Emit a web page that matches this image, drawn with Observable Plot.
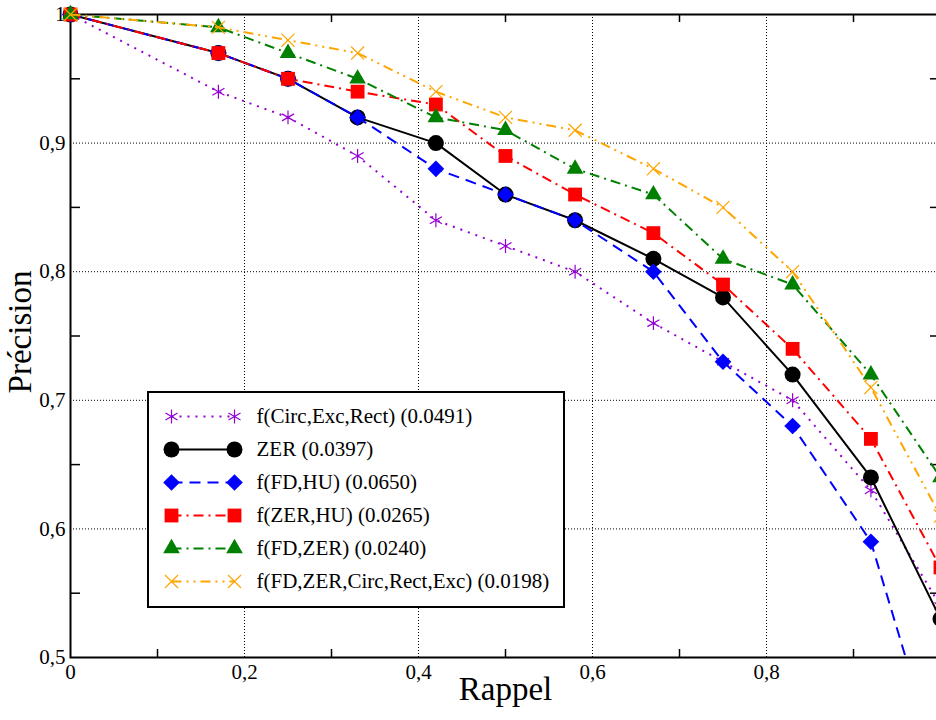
<!DOCTYPE html>
<html>
<head>
<meta charset="utf-8">
<script src="https://cdn.jsdelivr.net/npm/d3@7"></script>
<script src="https://cdn.jsdelivr.net/npm/@observablehq/plot@0.6"></script>
<style>
  body { margin: 0; background: #fff; }
  #wrap { position: relative; width: 936px; height: 720px; overflow: hidden; background: #fff; }
  #legend { position: absolute; left: 147px; top: 391px; border: 2px solid #000; background: #fff; line-height: 0; }
</style>
</head>
<body>
<div id="wrap"><div id="chart"></div><div id="legend"></div></div>
<script>
// ---- data ----
const recall = [0, 0.17, 0.25, 0.33, 0.42, 0.5, 0.58, 0.67, 0.75, 0.83, 0.92, 1];
const seriesNames = ["f(Circ,Exc,Rect)", "ZER", "f(FD,HU)", "f(ZER,HU)", "f(FD,ZER)", "f(FD,ZER,Circ,Rect,Exc)"];
const seriesScores = ["0.0491", "0.0397", "0.0650", "0.0265", "0.0240", "0.0198"];
const precCircExcRect = [1, 0.94, 0.92, 0.89, 0.84, 0.82, 0.80, 0.76, 0.73, 0.70, 0.63, 0.54];
const precZer         = [1, 0.97, 0.95, 0.92, 0.90, 0.86, 0.84, 0.81, 0.78, 0.72, 0.64, 0.53];
const precFdHu        = [1, 0.97, 0.95, 0.92, 0.88, 0.86, 0.84, 0.80, 0.73, 0.68, 0.59, 0.41];
const precZerHu       = [1, 0.97, 0.95, 0.94, 0.93, 0.89, 0.86, 0.83, 0.79, 0.74, 0.67, 0.57];
const precFdZer       = [1, 0.99, 0.97, 0.95, 0.92, 0.91, 0.88, 0.86, 0.81, 0.79, 0.72, 0.64];
const precAll         = [1, 0.99, 0.98, 0.97, 0.94, 0.92, 0.91, 0.88, 0.85, 0.80, 0.71, 0.61];
const xTicks = [0, 0.2, 0.4, 0.6, 0.8];
const yTicks = [0.5, 0.6, 0.7, 0.8, 0.9, 1];
const xMinorTicks = [0.1, 0.3, 0.5, 0.7, 0.9];
const yMinorTicks = [0.55, 0.65, 0.75, 0.85, 0.95];
const xGrid = [0.2, 0.4, 0.6, 0.8];
const yGrid = [0.6, 0.7, 0.8, 0.9];
const xTitle = "Rappel";
const yTitle = "Précision";

// ---- styles ----
const styles = [
  {color: "#9400d3", dash: "2,6",            symbol: "asterisk", r: 6.6, filled: false},
  {color: "#000000", dash: null,             symbol: "circle",   r: 8,   filled: true},
  {color: "#0000ff", dash: "11,7",           symbol: "diamond2", r: 7.5, filled: true},
  {color: "#ff0000", dash: "10,5,2,5",       symbol: "square",   r: 7.8, filled: true},
  {color: "#008000", dash: "10,5,2,5",       symbol: "triangle", r: 6.2, filled: true},
  {color: "#ffa500", dash: "10,5,2,5,2,5",   symbol: "times",    r: 6,   filled: false}
];

const precisions = [precCircExcRect, precZer, precFdHu, precZerHu, precFdZer, precAll];
const rows = seriesNames.flatMap((name, i) => recall.map((x, j) => ({i, name, x, y: precisions[i][j]})));

const fmt = d => (d === 0 || d === 1) ? String(d) : d.toFixed(1).replace(".", ",");
const font = "'Liberation Serif', 'DejaVu Serif', serif";

function seriesMarks(i, data, clip) {
  const s = styles[i];
  return [
    Plot.line(data, {x: "x", y: "y", stroke: s.color, strokeWidth: 2, strokeDasharray: s.dash,
      strokeLinecap: "butt", strokeLinejoin: "round", clip}),
    Plot.dot(data.filter(d => d.y >= 0.5 || !clip), {x: "x", y: "y", symbol: s.symbol, r: s.r,
      fill: s.filled ? s.color : "none", stroke: s.filled ? "none" : s.color, strokeWidth: 1.2})
  ];
}

const chart = Plot.plot({
  width: 936, height: 720,
  marginLeft: 70, marginRight: -4, marginTop: 14, marginBottom: 63,
  x: {domain: [0, 1], range: [70, 940]},
  y: {domain: [0.5, 1], range: [657, 14]},
  style: {fontFamily: font, fontSize: "21px", background: "#fff", color: "#000"},
  marks: [
    Plot.gridX(xGrid, {stroke: "#000", strokeOpacity: 1, strokeWidth: 1, strokeDasharray: "1,2"}),
    Plot.gridY(yGrid, {stroke: "#000", strokeOpacity: 1, strokeWidth: 1, strokeDasharray: "1,2"}),
    Plot.tickX(xMinorTicks, {x: d => d, insetTop: 635, strokeWidth: 1.5}),
    Plot.tickX(xMinorTicks, {x: d => d, insetBottom: 635, strokeWidth: 1.5}),
    Plot.tickY(yMinorTicks, {y: d => d, insetRight: 860, strokeWidth: 1.5}),
    Plot.tickY(yMinorTicks, {y: d => d, insetLeft: 860, strokeWidth: 1.5}),
    Plot.axisX(xTicks, {tickSize: 0, tickPadding: 7, tickFormat: fmt, label: null}),
    Plot.axisY(yTicks, {tickSize: 0, tickPadding: 5, tickFormat: fmt, label: null}),
    Plot.frame({strokeWidth: 2}),
    ...seriesNames.flatMap((name, i) => seriesMarks(i, rows.filter(d => d.i === i), true)),
    Plot.text([xTitle], {frameAnchor: "bottom", textAnchor: "middle", dy: 42, fontSize: 33}),
    Plot.text([yTitle], {frameAnchor: "left", textAnchor: "middle", dx: -50, dy: -4, rotate: -90, fontSize: 33})
  ]
});
document.getElementById("chart").appendChild(chart);

// ---- legend ----
const legendRows = seriesNames.flatMap((name, i) => [0, 1].map(x => ({i, name, x, y: i})));
const legendLabels = seriesNames.map((name, i) => ({i, label: `${name} (${seriesScores[i]})`}));
const legend = Plot.plot({
  width: 414, height: 213, margin: 0,
  x: {domain: [0, 1], range: [22, 85], axis: null},
  y: {type: "point", padding: 0, domain: d3.range(seriesNames.length), range: [22, 189], axis: null},
  style: {fontFamily: font, fontSize: "21px", background: "#fff", color: "#000", overflow: "visible"},
  marks: [
    ...seriesNames.flatMap((name, i) => seriesMarks(i, legendRows.filter(d => d.i === i), false)),
    Plot.text(legendLabels, {x: () => 1, y: "i", text: "label", dx: 22, textAnchor: "start"})
  ]
});
document.getElementById("legend").appendChild(legend);
</script>
</body>
</html>
